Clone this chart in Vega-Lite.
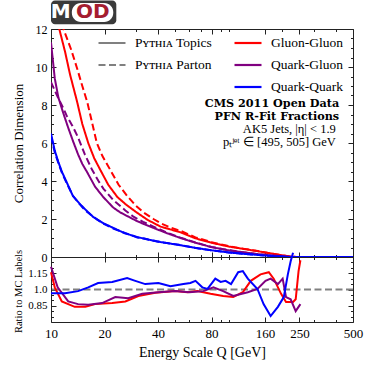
{
  "$schema": "https://vega.github.io/schema/vega-lite/v6.json",
  "padding": {"left": 11, "top": 0, "right": 0, "bottom": 0},
  "spacing": 0,
  "bounds": "flush",
  "config": {
    "font": "Liberation Serif",
    "view": {"stroke": "#222", "strokeWidth": 1},
    "axis": {"domain": false, "grid": false, "labelFlush": false, "tickColor": "#222", "tickWidth": 1, "labelColor": "black", "titleColor": "black", "titleFontWeight": "normal", "labelFont": "Liberation Serif", "titleFont": "Liberation Serif"},
    "legend": {"labelFont": "Liberation Serif", "labelColor": "black"}
  },
  "datasets": {
    "curves": [
      {"Q":10,"D":13.8,"pair":"Gluon-Gluon","src":"Pʏᴛʜɪᴀ Topics"},{"Q":11.1,"D":12.05,"pair":"Gluon-Gluon","src":"Pʏᴛʜɪᴀ Topics"},{"Q":12,"D":10.8,"pair":"Gluon-Gluon","src":"Pʏᴛʜɪᴀ Topics"},{"Q":12.8,"D":9.6,"pair":"Gluon-Gluon","src":"Pʏᴛʜɪᴀ Topics"},{"Q":14,"D":8.2,"pair":"Gluon-Gluon","src":"Pʏᴛʜɪᴀ Topics"},{"Q":15,"D":7.0,"pair":"Gluon-Gluon","src":"Pʏᴛʜɪᴀ Topics"},{"Q":16.2,"D":6.0,"pair":"Gluon-Gluon","src":"Pʏᴛʜɪᴀ Topics"},{"Q":17.5,"D":5.2,"pair":"Gluon-Gluon","src":"Pʏᴛʜɪᴀ Topics"},{"Q":18.9,"D":4.6,"pair":"Gluon-Gluon","src":"Pʏᴛʜɪᴀ Topics"},{"Q":21,"D":3.8,"pair":"Gluon-Gluon","src":"Pʏᴛʜɪᴀ Topics"},{"Q":23.6,"D":3.16,"pair":"Gluon-Gluon","src":"Pʏᴛʜɪᴀ Topics"},{"Q":26.5,"D":2.75,"pair":"Gluon-Gluon","src":"Pʏᴛʜɪᴀ Topics"},{"Q":30.6,"D":2.32,"pair":"Gluon-Gluon","src":"Pʏᴛʜɪᴀ Topics"},{"Q":35,"D":1.95,"pair":"Gluon-Gluon","src":"Pʏᴛʜɪᴀ Topics"},{"Q":41.3,"D":1.6,"pair":"Gluon-Gluon","src":"Pʏᴛʜɪᴀ Topics"},{"Q":53.5,"D":1.3,"pair":"Gluon-Gluon","src":"Pʏᴛʜɪᴀ Topics"},{"Q":65,"D":0.98,"pair":"Gluon-Gluon","src":"Pʏᴛʜɪᴀ Topics"},{"Q":80,"D":0.75,"pair":"Gluon-Gluon","src":"Pʏᴛʜɪᴀ Topics"},{"Q":100,"D":0.55,"pair":"Gluon-Gluon","src":"Pʏᴛʜɪᴀ Topics"},{"Q":120,"D":0.43,"pair":"Gluon-Gluon","src":"Pʏᴛʜɪᴀ Topics"},{"Q":140,"D":0.33,"pair":"Gluon-Gluon","src":"Pʏᴛʜɪᴀ Topics"},{"Q":170,"D":0.2,"pair":"Gluon-Gluon","src":"Pʏᴛʜɪᴀ Topics"},{"Q":200,"D":0.09,"pair":"Gluon-Gluon","src":"Pʏᴛʜɪᴀ Topics"},{"Q":220,"D":0.03,"pair":"Gluon-Gluon","src":"Pʏᴛʜɪᴀ Topics"},{"Q":240,"D":0,"pair":"Gluon-Gluon","src":"Pʏᴛʜɪᴀ Topics"},{"Q":500,"D":0,"pair":"Gluon-Gluon","src":"Pʏᴛʜɪᴀ Topics"},
      {"Q":10,"D":15.0,"pair":"Gluon-Gluon","src":"Pʏᴛʜɪᴀ Parton"},{"Q":11.7,"D":12.05,"pair":"Gluon-Gluon","src":"Pʏᴛʜɪᴀ Parton"},{"Q":13,"D":10.9,"pair":"Gluon-Gluon","src":"Pʏᴛʜɪᴀ Parton"},{"Q":14,"D":9.95,"pair":"Gluon-Gluon","src":"Pʏᴛʜɪᴀ Parton"},{"Q":15,"D":9.0,"pair":"Gluon-Gluon","src":"Pʏᴛʜɪᴀ Parton"},{"Q":16,"D":8.15,"pair":"Gluon-Gluon","src":"Pʏᴛʜɪᴀ Parton"},{"Q":17,"D":7.1,"pair":"Gluon-Gluon","src":"Pʏᴛʜɪᴀ Parton"},{"Q":18.1,"D":6.0,"pair":"Gluon-Gluon","src":"Pʏᴛʜɪᴀ Parton"},{"Q":19.5,"D":5.3,"pair":"Gluon-Gluon","src":"Pʏᴛʜɪᴀ Parton"},{"Q":21.5,"D":4.6,"pair":"Gluon-Gluon","src":"Pʏᴛʜɪᴀ Parton"},{"Q":24,"D":3.8,"pair":"Gluon-Gluon","src":"Pʏᴛʜɪᴀ Parton"},{"Q":26.9,"D":3.2,"pair":"Gluon-Gluon","src":"Pʏᴛʜɪᴀ Parton"},{"Q":30,"D":2.7,"pair":"Gluon-Gluon","src":"Pʏᴛʜɪᴀ Parton"},{"Q":33.1,"D":2.35,"pair":"Gluon-Gluon","src":"Pʏᴛʜɪᴀ Parton"},{"Q":37.7,"D":2.0,"pair":"Gluon-Gluon","src":"Pʏᴛʜɪᴀ Parton"},{"Q":41.3,"D":1.78,"pair":"Gluon-Gluon","src":"Pʏᴛʜɪᴀ Parton"},{"Q":47,"D":1.55,"pair":"Gluon-Gluon","src":"Pʏᴛʜɪᴀ Parton"},{"Q":53.5,"D":1.38,"pair":"Gluon-Gluon","src":"Pʏᴛʜɪᴀ Parton"},{"Q":65,"D":1.03,"pair":"Gluon-Gluon","src":"Pʏᴛʜɪᴀ Parton"},{"Q":80,"D":0.78,"pair":"Gluon-Gluon","src":"Pʏᴛʜɪᴀ Parton"},{"Q":100,"D":0.57,"pair":"Gluon-Gluon","src":"Pʏᴛʜɪᴀ Parton"},{"Q":120,"D":0.44,"pair":"Gluon-Gluon","src":"Pʏᴛʜɪᴀ Parton"},{"Q":140,"D":0.34,"pair":"Gluon-Gluon","src":"Pʏᴛʜɪᴀ Parton"},{"Q":170,"D":0.2,"pair":"Gluon-Gluon","src":"Pʏᴛʜɪᴀ Parton"},{"Q":200,"D":0.09,"pair":"Gluon-Gluon","src":"Pʏᴛʜɪᴀ Parton"},{"Q":220,"D":0.03,"pair":"Gluon-Gluon","src":"Pʏᴛʜɪᴀ Parton"},{"Q":240,"D":0,"pair":"Gluon-Gluon","src":"Pʏᴛʜɪᴀ Parton"},{"Q":500,"D":0,"pair":"Gluon-Gluon","src":"Pʏᴛʜɪᴀ Parton"},
      {"Q":10,"D":11.3,"pair":"Quark-Gluon","src":"Pʏᴛʜɪᴀ Topics"},{"Q":10.5,"D":9.4,"pair":"Quark-Gluon","src":"Pʏᴛʜɪᴀ Topics"},{"Q":11,"D":8.4,"pair":"Quark-Gluon","src":"Pʏᴛʜɪᴀ Topics"},{"Q":11.7,"D":7.6,"pair":"Quark-Gluon","src":"Pʏᴛʜɪᴀ Topics"},{"Q":12.5,"D":6.8,"pair":"Quark-Gluon","src":"Pʏᴛʜɪᴀ Topics"},{"Q":13.3,"D":6.1,"pair":"Quark-Gluon","src":"Pʏᴛʜɪᴀ Topics"},{"Q":14.2,"D":5.4,"pair":"Quark-Gluon","src":"Pʏᴛʜɪᴀ Topics"},{"Q":15,"D":4.9,"pair":"Quark-Gluon","src":"Pʏᴛʜɪᴀ Topics"},{"Q":16,"D":4.45,"pair":"Quark-Gluon","src":"Pʏᴛʜɪᴀ Topics"},{"Q":17.7,"D":3.7,"pair":"Quark-Gluon","src":"Pʏᴛʜɪᴀ Topics"},{"Q":19.7,"D":3.15,"pair":"Quark-Gluon","src":"Pʏᴛʜɪᴀ Topics"},{"Q":22.4,"D":2.6,"pair":"Quark-Gluon","src":"Pʏᴛʜɪᴀ Topics"},{"Q":24.5,"D":2.35,"pair":"Quark-Gluon","src":"Pʏᴛʜɪᴀ Topics"},{"Q":26.9,"D":2.15,"pair":"Quark-Gluon","src":"Pʏᴛʜɪᴀ Topics"},{"Q":30,"D":1.92,"pair":"Quark-Gluon","src":"Pʏᴛʜɪᴀ Topics"},{"Q":33,"D":1.75,"pair":"Quark-Gluon","src":"Pʏᴛʜɪᴀ Topics"},{"Q":37.7,"D":1.53,"pair":"Quark-Gluon","src":"Pʏᴛʜɪᴀ Topics"},{"Q":45,"D":1.25,"pair":"Quark-Gluon","src":"Pʏᴛʜɪᴀ Topics"},{"Q":53.5,"D":1.0,"pair":"Quark-Gluon","src":"Pʏᴛʜɪᴀ Topics"},{"Q":65,"D":0.75,"pair":"Quark-Gluon","src":"Pʏᴛʜɪᴀ Topics"},{"Q":80,"D":0.52,"pair":"Quark-Gluon","src":"Pʏᴛʜɪᴀ Topics"},{"Q":100,"D":0.35,"pair":"Quark-Gluon","src":"Pʏᴛʜɪᴀ Topics"},{"Q":120,"D":0.25,"pair":"Quark-Gluon","src":"Pʏᴛʜɪᴀ Topics"},{"Q":140,"D":0.17,"pair":"Quark-Gluon","src":"Pʏᴛʜɪᴀ Topics"},{"Q":170,"D":0.09,"pair":"Quark-Gluon","src":"Pʏᴛʜɪᴀ Topics"},{"Q":200,"D":0.04,"pair":"Quark-Gluon","src":"Pʏᴛʜɪᴀ Topics"},{"Q":230,"D":0,"pair":"Quark-Gluon","src":"Pʏᴛʜɪᴀ Topics"},{"Q":500,"D":0,"pair":"Quark-Gluon","src":"Pʏᴛʜɪᴀ Topics"},
      {"Q":10,"D":9.2,"pair":"Quark-Gluon","src":"Pʏᴛʜɪᴀ Parton"},{"Q":11,"D":8.35,"pair":"Quark-Gluon","src":"Pʏᴛʜɪᴀ Parton"},{"Q":11.7,"D":7.85,"pair":"Quark-Gluon","src":"Pʏᴛʜɪᴀ Parton"},{"Q":12.3,"D":7.4,"pair":"Quark-Gluon","src":"Pʏᴛʜɪᴀ Parton"},{"Q":13.2,"D":6.9,"pair":"Quark-Gluon","src":"Pʏᴛʜɪᴀ Parton"},{"Q":14.2,"D":6.3,"pair":"Quark-Gluon","src":"Pʏᴛʜɪᴀ Parton"},{"Q":15.5,"D":5.4,"pair":"Quark-Gluon","src":"Pʏᴛʜɪᴀ Parton"},{"Q":17,"D":4.6,"pair":"Quark-Gluon","src":"Pʏᴛʜɪᴀ Parton"},{"Q":18.5,"D":4.0,"pair":"Quark-Gluon","src":"Pʏᴛʜɪᴀ Parton"},{"Q":19.7,"D":3.6,"pair":"Quark-Gluon","src":"Pʏᴛʜɪᴀ Parton"},{"Q":22.4,"D":3.0,"pair":"Quark-Gluon","src":"Pʏᴛʜɪᴀ Parton"},{"Q":26.2,"D":2.45,"pair":"Quark-Gluon","src":"Pʏᴛʜɪᴀ Parton"},{"Q":29.1,"D":2.12,"pair":"Quark-Gluon","src":"Pʏᴛʜɪᴀ Parton"},{"Q":33,"D":1.85,"pair":"Quark-Gluon","src":"Pʏᴛʜɪᴀ Parton"},{"Q":37.7,"D":1.6,"pair":"Quark-Gluon","src":"Pʏᴛʜɪᴀ Parton"},{"Q":45,"D":1.28,"pair":"Quark-Gluon","src":"Pʏᴛʜɪᴀ Parton"},{"Q":53.5,"D":1.02,"pair":"Quark-Gluon","src":"Pʏᴛʜɪᴀ Parton"},{"Q":65,"D":0.76,"pair":"Quark-Gluon","src":"Pʏᴛʜɪᴀ Parton"},{"Q":80,"D":0.53,"pair":"Quark-Gluon","src":"Pʏᴛʜɪᴀ Parton"},{"Q":100,"D":0.36,"pair":"Quark-Gluon","src":"Pʏᴛʜɪᴀ Parton"},{"Q":120,"D":0.25,"pair":"Quark-Gluon","src":"Pʏᴛʜɪᴀ Parton"},{"Q":140,"D":0.17,"pair":"Quark-Gluon","src":"Pʏᴛʜɪᴀ Parton"},{"Q":170,"D":0.09,"pair":"Quark-Gluon","src":"Pʏᴛʜɪᴀ Parton"},{"Q":200,"D":0.04,"pair":"Quark-Gluon","src":"Pʏᴛʜɪᴀ Parton"},{"Q":230,"D":0,"pair":"Quark-Gluon","src":"Pʏᴛʜɪᴀ Parton"},{"Q":500,"D":0,"pair":"Quark-Gluon","src":"Pʏᴛʜɪᴀ Parton"},
      {"Q":10,"D":6.5,"pair":"Quark-Quark","src":"Pʏᴛʜɪᴀ Topics"},{"Q":10.5,"D":5.6,"pair":"Quark-Quark","src":"Pʏᴛʜɪᴀ Topics"},{"Q":11,"D":5.0,"pair":"Quark-Quark","src":"Pʏᴛʜɪᴀ Topics"},{"Q":11.5,"D":4.5,"pair":"Quark-Quark","src":"Pʏᴛʜɪᴀ Topics"},{"Q":12.3,"D":3.9,"pair":"Quark-Quark","src":"Pʏᴛʜɪᴀ Topics"},{"Q":13.3,"D":3.2,"pair":"Quark-Quark","src":"Pʏᴛʜɪᴀ Topics"},{"Q":14.5,"D":2.8,"pair":"Quark-Quark","src":"Pʏᴛʜɪᴀ Topics"},{"Q":15.6,"D":2.5,"pair":"Quark-Quark","src":"Pʏᴛʜɪᴀ Topics"},{"Q":17.3,"D":2.1,"pair":"Quark-Quark","src":"Pʏᴛʜɪᴀ Topics"},{"Q":19.5,"D":1.8,"pair":"Quark-Quark","src":"Pʏᴛʜɪᴀ Topics"},{"Q":22.4,"D":1.53,"pair":"Quark-Quark","src":"Pʏᴛʜɪᴀ Topics"},{"Q":26,"D":1.25,"pair":"Quark-Quark","src":"Pʏᴛʜɪᴀ Topics"},{"Q":30.6,"D":1.05,"pair":"Quark-Quark","src":"Pʏᴛʜɪᴀ Topics"},{"Q":35,"D":0.92,"pair":"Quark-Quark","src":"Pʏᴛʜɪᴀ Topics"},{"Q":41.3,"D":0.79,"pair":"Quark-Quark","src":"Pʏᴛʜɪᴀ Topics"},{"Q":53.5,"D":0.62,"pair":"Quark-Quark","src":"Pʏᴛʜɪᴀ Topics"},{"Q":65,"D":0.48,"pair":"Quark-Quark","src":"Pʏᴛʜɪᴀ Topics"},{"Q":80,"D":0.35,"pair":"Quark-Quark","src":"Pʏᴛʜɪᴀ Topics"},{"Q":100,"D":0.24,"pair":"Quark-Quark","src":"Pʏᴛʜɪᴀ Topics"},{"Q":120,"D":0.17,"pair":"Quark-Quark","src":"Pʏᴛʜɪᴀ Topics"},{"Q":140,"D":0.12,"pair":"Quark-Quark","src":"Pʏᴛʜɪᴀ Topics"},{"Q":170,"D":0.06,"pair":"Quark-Quark","src":"Pʏᴛʜɪᴀ Topics"},{"Q":200,"D":0.02,"pair":"Quark-Quark","src":"Pʏᴛʜɪᴀ Topics"},{"Q":215,"D":0,"pair":"Quark-Quark","src":"Pʏᴛʜɪᴀ Topics"},{"Q":500,"D":0,"pair":"Quark-Quark","src":"Pʏᴛʜɪᴀ Topics"},
      {"Q":10,"D":6.35,"pair":"Quark-Quark","src":"Pʏᴛʜɪᴀ Parton"},{"Q":10.5,"D":5.5,"pair":"Quark-Quark","src":"Pʏᴛʜɪᴀ Parton"},{"Q":11,"D":4.95,"pair":"Quark-Quark","src":"Pʏᴛʜɪᴀ Parton"},{"Q":11.5,"D":4.45,"pair":"Quark-Quark","src":"Pʏᴛʜɪᴀ Parton"},{"Q":12.3,"D":3.85,"pair":"Quark-Quark","src":"Pʏᴛʜɪᴀ Parton"},{"Q":13.3,"D":3.22,"pair":"Quark-Quark","src":"Pʏᴛʜɪᴀ Parton"},{"Q":14.5,"D":2.78,"pair":"Quark-Quark","src":"Pʏᴛʜɪᴀ Parton"},{"Q":15.6,"D":2.45,"pair":"Quark-Quark","src":"Pʏᴛʜɪᴀ Parton"},{"Q":17.3,"D":2.12,"pair":"Quark-Quark","src":"Pʏᴛʜɪᴀ Parton"},{"Q":19.5,"D":1.78,"pair":"Quark-Quark","src":"Pʏᴛʜɪᴀ Parton"},{"Q":22.4,"D":1.5,"pair":"Quark-Quark","src":"Pʏᴛʜɪᴀ Parton"},{"Q":26,"D":1.27,"pair":"Quark-Quark","src":"Pʏᴛʜɪᴀ Parton"},{"Q":30.6,"D":1.03,"pair":"Quark-Quark","src":"Pʏᴛʜɪᴀ Parton"},{"Q":35,"D":0.93,"pair":"Quark-Quark","src":"Pʏᴛʜɪᴀ Parton"},{"Q":41.3,"D":0.78,"pair":"Quark-Quark","src":"Pʏᴛʜɪᴀ Parton"},{"Q":53.5,"D":0.63,"pair":"Quark-Quark","src":"Pʏᴛʜɪᴀ Parton"},{"Q":65,"D":0.47,"pair":"Quark-Quark","src":"Pʏᴛʜɪᴀ Parton"},{"Q":80,"D":0.35,"pair":"Quark-Quark","src":"Pʏᴛʜɪᴀ Parton"},{"Q":100,"D":0.24,"pair":"Quark-Quark","src":"Pʏᴛʜɪᴀ Parton"},{"Q":120,"D":0.17,"pair":"Quark-Quark","src":"Pʏᴛʜɪᴀ Parton"},{"Q":140,"D":0.12,"pair":"Quark-Quark","src":"Pʏᴛʜɪᴀ Parton"},{"Q":170,"D":0.06,"pair":"Quark-Quark","src":"Pʏᴛʜɪᴀ Parton"},{"Q":200,"D":0.02,"pair":"Quark-Quark","src":"Pʏᴛʜɪᴀ Parton"},{"Q":215,"D":0,"pair":"Quark-Quark","src":"Pʏᴛʜɪᴀ Parton"},{"Q":500,"D":0,"pair":"Quark-Quark","src":"Pʏᴛʜɪᴀ Parton"}
    ],
    "ratio": [
      {"Q":10,"R":1.16,"pair":"Gluon-Gluon"},{"Q":10.5,"R":1.02,"pair":"Gluon-Gluon"},{"Q":11.5,"R":0.89,"pair":"Gluon-Gluon"},{"Q":13.6,"R":0.84,"pair":"Gluon-Gluon"},{"Q":15.6,"R":0.84,"pair":"Gluon-Gluon"},{"Q":17.7,"R":0.865,"pair":"Gluon-Gluon"},{"Q":22.1,"R":0.875,"pair":"Gluon-Gluon"},{"Q":26.2,"R":0.89,"pair":"Gluon-Gluon"},{"Q":31,"R":0.94,"pair":"Gluon-Gluon"},{"Q":38.6,"R":0.97,"pair":"Gluon-Gluon"},{"Q":50,"R":0.985,"pair":"Gluon-Gluon"},{"Q":58.5,"R":0.975,"pair":"Gluon-Gluon"},{"Q":66.6,"R":0.985,"pair":"Gluon-Gluon"},{"Q":79,"R":0.96,"pair":"Gluon-Gluon"},{"Q":93,"R":0.94,"pair":"Gluon-Gluon"},{"Q":106,"R":0.93,"pair":"Gluon-Gluon"},{"Q":120,"R":0.975,"pair":"Gluon-Gluon"},{"Q":133,"R":1.08,"pair":"Gluon-Gluon"},{"Q":151,"R":1.14,"pair":"Gluon-Gluon"},{"Q":168,"R":1.16,"pair":"Gluon-Gluon"},{"Q":179,"R":1.1,"pair":"Gluon-Gluon"},{"Q":197,"R":0.96,"pair":"Gluon-Gluon"},{"Q":210,"R":0.885,"pair":"Gluon-Gluon"},{"Q":230,"R":0.885,"pair":"Gluon-Gluon"},{"Q":238,"R":0.91,"pair":"Gluon-Gluon"},{"Q":247,"R":1.17,"pair":"Gluon-Gluon"},{"Q":253,"R":1.27,"pair":"Gluon-Gluon"},
      {"Q":10,"R":1.21,"pair":"Quark-Gluon"},{"Q":10.9,"R":1.02,"pair":"Quark-Gluon"},{"Q":12.5,"R":0.89,"pair":"Quark-Gluon"},{"Q":14.2,"R":0.865,"pair":"Quark-Gluon"},{"Q":16.2,"R":0.86,"pair":"Quark-Gluon"},{"Q":19.4,"R":0.875,"pair":"Quark-Gluon"},{"Q":23,"R":0.93,"pair":"Quark-Gluon"},{"Q":27.2,"R":0.92,"pair":"Quark-Gluon"},{"Q":32.6,"R":0.96,"pair":"Quark-Gluon"},{"Q":40.2,"R":0.975,"pair":"Quark-Gluon"},{"Q":50,"R":0.985,"pair":"Quark-Gluon"},{"Q":60,"R":0.975,"pair":"Quark-Gluon"},{"Q":72,"R":0.985,"pair":"Quark-Gluon"},{"Q":82,"R":1.02,"pair":"Quark-Gluon"},{"Q":93,"R":0.985,"pair":"Quark-Gluon"},{"Q":106,"R":0.94,"pair":"Quark-Gluon"},{"Q":128,"R":0.975,"pair":"Quark-Gluon"},{"Q":145,"R":1.005,"pair":"Quark-Gluon"},{"Q":161,"R":1.08,"pair":"Quark-Gluon"},{"Q":172,"R":1.1,"pair":"Quark-Gluon"},{"Q":189,"R":1.05,"pair":"Quark-Gluon"},{"Q":201,"R":1.1,"pair":"Quark-Gluon"},{"Q":210,"R":0.93,"pair":"Quark-Gluon"},{"Q":223,"R":0.91,"pair":"Quark-Gluon"},{"Q":238,"R":0.8,"pair":"Quark-Gluon"},{"Q":253,"R":0.865,"pair":"Quark-Gluon"},
      {"Q":10,"R":0.965,"pair":"Quark-Quark"},{"Q":12,"R":0.965,"pair":"Quark-Quark"},{"Q":14.2,"R":0.985,"pair":"Quark-Quark"},{"Q":16.2,"R":1.02,"pair":"Quark-Quark"},{"Q":18.4,"R":1.06,"pair":"Quark-Quark"},{"Q":22.1,"R":1.07,"pair":"Quark-Quark"},{"Q":26.8,"R":1.105,"pair":"Quark-Quark"},{"Q":29.8,"R":1.08,"pair":"Quark-Quark"},{"Q":33.9,"R":1.05,"pair":"Quark-Quark"},{"Q":40.2,"R":1.06,"pair":"Quark-Quark"},{"Q":47,"R":1.03,"pair":"Quark-Quark"},{"Q":55.6,"R":1.05,"pair":"Quark-Quark"},{"Q":60.8,"R":1.06,"pair":"Quark-Quark"},{"Q":65,"R":1.08,"pair":"Quark-Quark"},{"Q":71,"R":1.02,"pair":"Quark-Quark"},{"Q":76,"R":1.005,"pair":"Quark-Quark"},{"Q":84,"R":1.1,"pair":"Quark-Quark"},{"Q":90,"R":1.07,"pair":"Quark-Quark"},{"Q":96,"R":1.08,"pair":"Quark-Quark"},{"Q":103,"R":1.05,"pair":"Quark-Quark"},{"Q":113,"R":1.16,"pair":"Quark-Quark"},{"Q":120,"R":1.17,"pair":"Quark-Quark"},{"Q":128,"R":1.1,"pair":"Quark-Quark"},{"Q":145,"R":1.005,"pair":"Quark-Quark"},{"Q":157,"R":0.865,"pair":"Quark-Quark"},{"Q":172,"R":0.755,"pair":"Quark-Quark"},{"Q":189,"R":0.84,"pair":"Quark-Quark"},{"Q":204,"R":0.93,"pair":"Quark-Quark"},{"Q":215,"R":1.14,"pair":"Quark-Quark"},{"Q":223,"R":1.26,"pair":"Quark-Quark"},{"Q":230,"R":1.34,"pair":"Quark-Quark"}
    ]
  },
  "vconcat": [
    {
      "width": 302,
      "height": 228,
      "layer": [
        {
          "data": {"name": "curves"},
          "mark": {"type": "line", "clip": true, "strokeWidth": 2},
          "encoding": {
            "x": {"field": "Q", "type": "quantitative", "scale": {"type": "log", "domain": [10, 500]}, "axis": {"orient": "bottom", "values": [10, 20, 40, 80, 160, 250, 500], "labels": false, "tickSize": -5, "title": null}},
            "y": {"field": "D", "type": "quantitative", "scale": {"domain": [0, 12]}, "axis": {"orient": "left", "values": [0, 2, 4, 6, 8, 10, 12], "tickSize": -5, "labelPadding": 9, "labelFontSize": 12, "title": "Correlation Dimension", "titleFontSize": 13, "titleX": -33, "titleY": 114, "titleBaseline": "middle", "titleAlign": "center"}},
            "color": {"field": "pair", "type": "nominal", "scale": {"domain": ["Gluon-Gluon", "Quark-Gluon", "Quark-Quark"], "range": ["#ff0000", "#800080", "#0000ff"]}, "legend": {"orient": "none", "legendX": 182, "legendY": -1, "title": null, "symbolType": "stroke", "symbolSize": 729, "symbolStrokeWidth": 2.2, "labelFontSize": 13.5, "labelOffset": 8, "padding": 0, "rowPadding": -7}},
            "strokeDash": {"field": "src", "type": "nominal", "scale": {"domain": ["Pʏᴛʜɪᴀ Topics", "Pʏᴛʜɪᴀ Parton"], "range": [[1, 0], [7, 3.5]]}, "legend": {"orient": "none", "legendX": 46, "legendY": -1, "title": null, "symbolType": "stroke", "symbolSize": 729, "symbolStrokeWidth": 2.2, "symbolStrokeColor": "#808080", "labelFontSize": 13.5, "labelOffset": 8, "padding": 0, "rowPadding": -7}}
          }
        },
        {
          "data": {"name": "curves"},
          "mark": {"type": "point", "opacity": 0, "size": 0, "clip": true},
          "encoding": {
            "x": {"field": "Q", "type": "quantitative", "scale": {"type": "log", "domain": [10, 500]}, "axis": {"orient": "bottom", "values": [30, 50, 60, 70, 90, 100, 200, 300, 400], "labels": false, "tickSize": -2.5, "title": null}},
            "y": {"field": "D", "type": "quantitative", "scale": {"domain": [0, 12]}, "axis": {"orient": "left", "values": [0.5, 1, 1.5, 2.5, 3, 3.5, 4.5, 5, 5.5, 6.5, 7, 7.5, 8.5, 9, 9.5, 10.5, 11, 11.5], "labels": false, "tickSize": -2.5, "title": null}}
          }
        },
        {
          "data": {"name": "curves"},
          "mark": {"type": "point", "opacity": 0, "size": 0, "clip": true},
          "encoding": {
            "x": {"field": "Q", "type": "quantitative", "scale": {"type": "log", "domain": [10, 500]}, "axis": {"orient": "top", "values": [10, 20, 40, 80, 160, 250, 500], "labels": false, "tickSize": -5, "title": null}},
            "y": {"field": "D", "type": "quantitative", "scale": {"domain": [0, 12]}, "axis": {"orient": "right", "values": [0, 2, 4, 6, 8, 10, 12], "labels": false, "tickSize": -5, "title": null}}
          }
        },
        {
          "data": {"name": "curves"},
          "mark": {"type": "point", "opacity": 0, "size": 0, "clip": true},
          "encoding": {
            "x": {"field": "Q", "type": "quantitative", "scale": {"type": "log", "domain": [10, 500]}, "axis": {"orient": "top", "values": [30, 50, 60, 70, 90, 100, 200, 300, 400], "labels": false, "tickSize": -2.5, "title": null}},
            "y": {"field": "D", "type": "quantitative", "scale": {"domain": [0, 12]}, "axis": {"orient": "right", "values": [0.5, 1, 1.5, 2.5, 3, 3.5, 4.5, 5, 5.5, 6.5, 7, 7.5, 8.5, 9, 9.5, 10.5, 11, 11.5], "labels": false, "tickSize": -2.5, "title": null}}
          }
        },
        {
          "data": {"values": [{}]},
          "mark": {"type": "text", "align": "right", "baseline": "alphabetic", "font": "DejaVu Serif", "fontWeight": "bold", "fontSize": 11.2, "lineHeight": 13, "text": ["CMS 2011 Open Data", "PFN R-Fit Fractions"]},
          "encoding": {
            "x": {"datum": 418, "type": "quantitative", "scale": {"type": "log", "domain": [10, 500]}, "axis": null},
            "y": {"datum": 7.89, "type": "quantitative", "scale": {"domain": [0, 12]}, "axis": null}
          }
        },
        {
          "data": {"values": [{}]},
          "mark": {"type": "text", "align": "right", "baseline": "alphabetic", "fontSize": 12.5, "lineHeight": 13, "text": ["AK5 Jets, |η| < 1.9", "pₜʲᵉᵗ ∈ [495, 505] GeV"]},
          "encoding": {
            "x": {"datum": 400, "type": "quantitative", "scale": {"type": "log", "domain": [10, 500]}, "axis": null},
            "y": {"datum": 6.53, "type": "quantitative", "scale": {"domain": [0, 12]}, "axis": null}
          }
        },
        {
          "data": {"values": [{}]},
          "mark": {"type": "rect", "clip": false, "color": "#3a3a3a", "cornerRadius": 4},
          "encoding": {
            "x": {"datum": 10, "type": "quantitative", "scale": {"type": "log", "domain": [10, 500]}, "axis": null},
            "x2": {"datum": 23.3},
            "y": {"datum": 13.5, "type": "quantitative", "scale": {"domain": [0, 12]}, "axis": null},
            "y2": {"datum": 12.25}
          }
        },
        {
          "data": {"values": [{}]},
          "mark": {"type": "rect", "clip": false, "color": "white", "cornerRadius": 9},
          "encoding": {
            "x": {"datum": 13.1, "type": "quantitative", "scale": {"type": "log", "domain": [10, 500]}, "axis": null},
            "x2": {"datum": 22.4},
            "y": {"datum": 13.37, "type": "quantitative", "scale": {"domain": [0, 12]}, "axis": null},
            "y2": {"datum": 12.37}
          }
        },
        {
          "data": {"values": [{}]},
          "mark": {"type": "text", "clip": false, "font": "DejaVu Sans", "fontWeight": "bold", "fontSize": 20, "color": "white", "align": "center", "baseline": "middle", "text": "M"},
          "encoding": {
            "x": {"datum": 11.35, "type": "quantitative", "scale": {"type": "log", "domain": [10, 500]}, "axis": null},
            "y": {"datum": 12.87, "type": "quantitative", "scale": {"domain": [0, 12]}, "axis": null}
          }
        },
        {
          "data": {"values": [{}]},
          "mark": {"type": "text", "clip": false, "font": "DejaVu Sans", "fontWeight": "bold", "fontSize": 20, "color": "#a51c30", "align": "center", "baseline": "middle", "text": "OD"},
          "encoding": {
            "x": {"datum": 17.2, "type": "quantitative", "scale": {"type": "log", "domain": [10, 500]}, "axis": null},
            "y": {"datum": 12.87, "type": "quantitative", "scale": {"domain": [0, 12]}, "axis": null}
          }
        }
      ],
      "resolve": {"axis": {"x": "independent", "y": "independent"}}
    },
    {
      "width": 302,
      "height": 65,
      "layer": [
        {
          "data": {"values": [{}]},
          "mark": {"type": "rule", "strokeDash": [7, 3.5], "color": "#808080", "strokeWidth": 2},
          "encoding": {
            "y": {"datum": 1, "type": "quantitative", "scale": {"domain": [0.7, 1.3]}, "axis": null}
          }
        },
        {
          "data": {"name": "ratio"},
          "mark": {"type": "line", "strokeWidth": 2, "clip": false},
          "encoding": {
            "x": {"field": "Q", "type": "quantitative", "scale": {"type": "log", "domain": [10, 500]}, "axis": {"orient": "bottom", "values": [10, 20, 40, 80, 160, 250, 500], "tickSize": -5, "labelPadding": 10, "labelFontSize": 13, "title": "Energy Scale Q [GeV]", "titleFontSize": 14, "titlePadding": 5}},
            "y": {"field": "R", "type": "quantitative", "scale": {"domain": [0.7, 1.3]}, "axis": {"orient": "left", "values": [0.85, 1, 1.15], "labelExpr": "datum.value == 1 ? '1.0' : format(datum.value, '.2f')", "tickSize": -5, "labelPadding": 9, "labelFontSize": 11, "title": "Ratio to MC Labels", "titleFontSize": 10.5, "titleX": -33, "titleY": 34, "titleBaseline": "middle", "titleAlign": "center"}},
            "color": {"field": "pair", "type": "nominal", "scale": {"domain": ["Gluon-Gluon", "Quark-Gluon", "Quark-Quark"], "range": ["#ff0000", "#800080", "#0000ff"]}, "legend": null}
          }
        },
        {
          "data": {"name": "ratio"},
          "mark": {"type": "point", "opacity": 0, "size": 0, "clip": true},
          "encoding": {
            "x": {"field": "Q", "type": "quantitative", "scale": {"type": "log", "domain": [10, 500]}, "axis": {"orient": "bottom", "values": [30, 50, 60, 70, 90, 100, 200, 300, 400], "labels": false, "tickSize": -2.5, "title": null}},
            "y": {"field": "R", "type": "quantitative", "scale": {"domain": [0.7, 1.3]}, "axis": {"orient": "left", "values": [0.75, 0.8, 0.9, 0.95, 1.05, 1.1, 1.2, 1.25], "labels": false, "tickSize": -2.5, "title": null}}
          }
        },
        {
          "data": {"name": "ratio"},
          "mark": {"type": "point", "opacity": 0, "size": 0, "clip": true},
          "encoding": {
            "x": {"field": "Q", "type": "quantitative", "scale": {"type": "log", "domain": [10, 500]}, "axis": {"orient": "top", "values": [10, 20, 40, 80, 160, 250, 500], "labels": false, "tickSize": -5, "title": null}},
            "y": {"field": "R", "type": "quantitative", "scale": {"domain": [0.7, 1.3]}, "axis": {"orient": "right", "values": [0.85, 1, 1.15], "labels": false, "tickSize": -5, "title": null}}
          }
        },
        {
          "data": {"name": "ratio"},
          "mark": {"type": "point", "opacity": 0, "size": 0, "clip": true},
          "encoding": {
            "x": {"field": "Q", "type": "quantitative", "scale": {"type": "log", "domain": [10, 500]}, "axis": {"orient": "top", "values": [30, 50, 60, 70, 90, 100, 200, 300, 400], "labels": false, "tickSize": -2.5, "title": null}},
            "y": {"field": "R", "type": "quantitative", "scale": {"domain": [0.7, 1.3]}, "axis": {"orient": "right", "values": [0.75, 0.8, 0.9, 0.95, 1.05, 1.1, 1.2, 1.25], "labels": false, "tickSize": -2.5, "title": null}}
          }
        }
      ],
      "resolve": {"axis": {"x": "independent", "y": "independent"}}
    }
  ]
}
